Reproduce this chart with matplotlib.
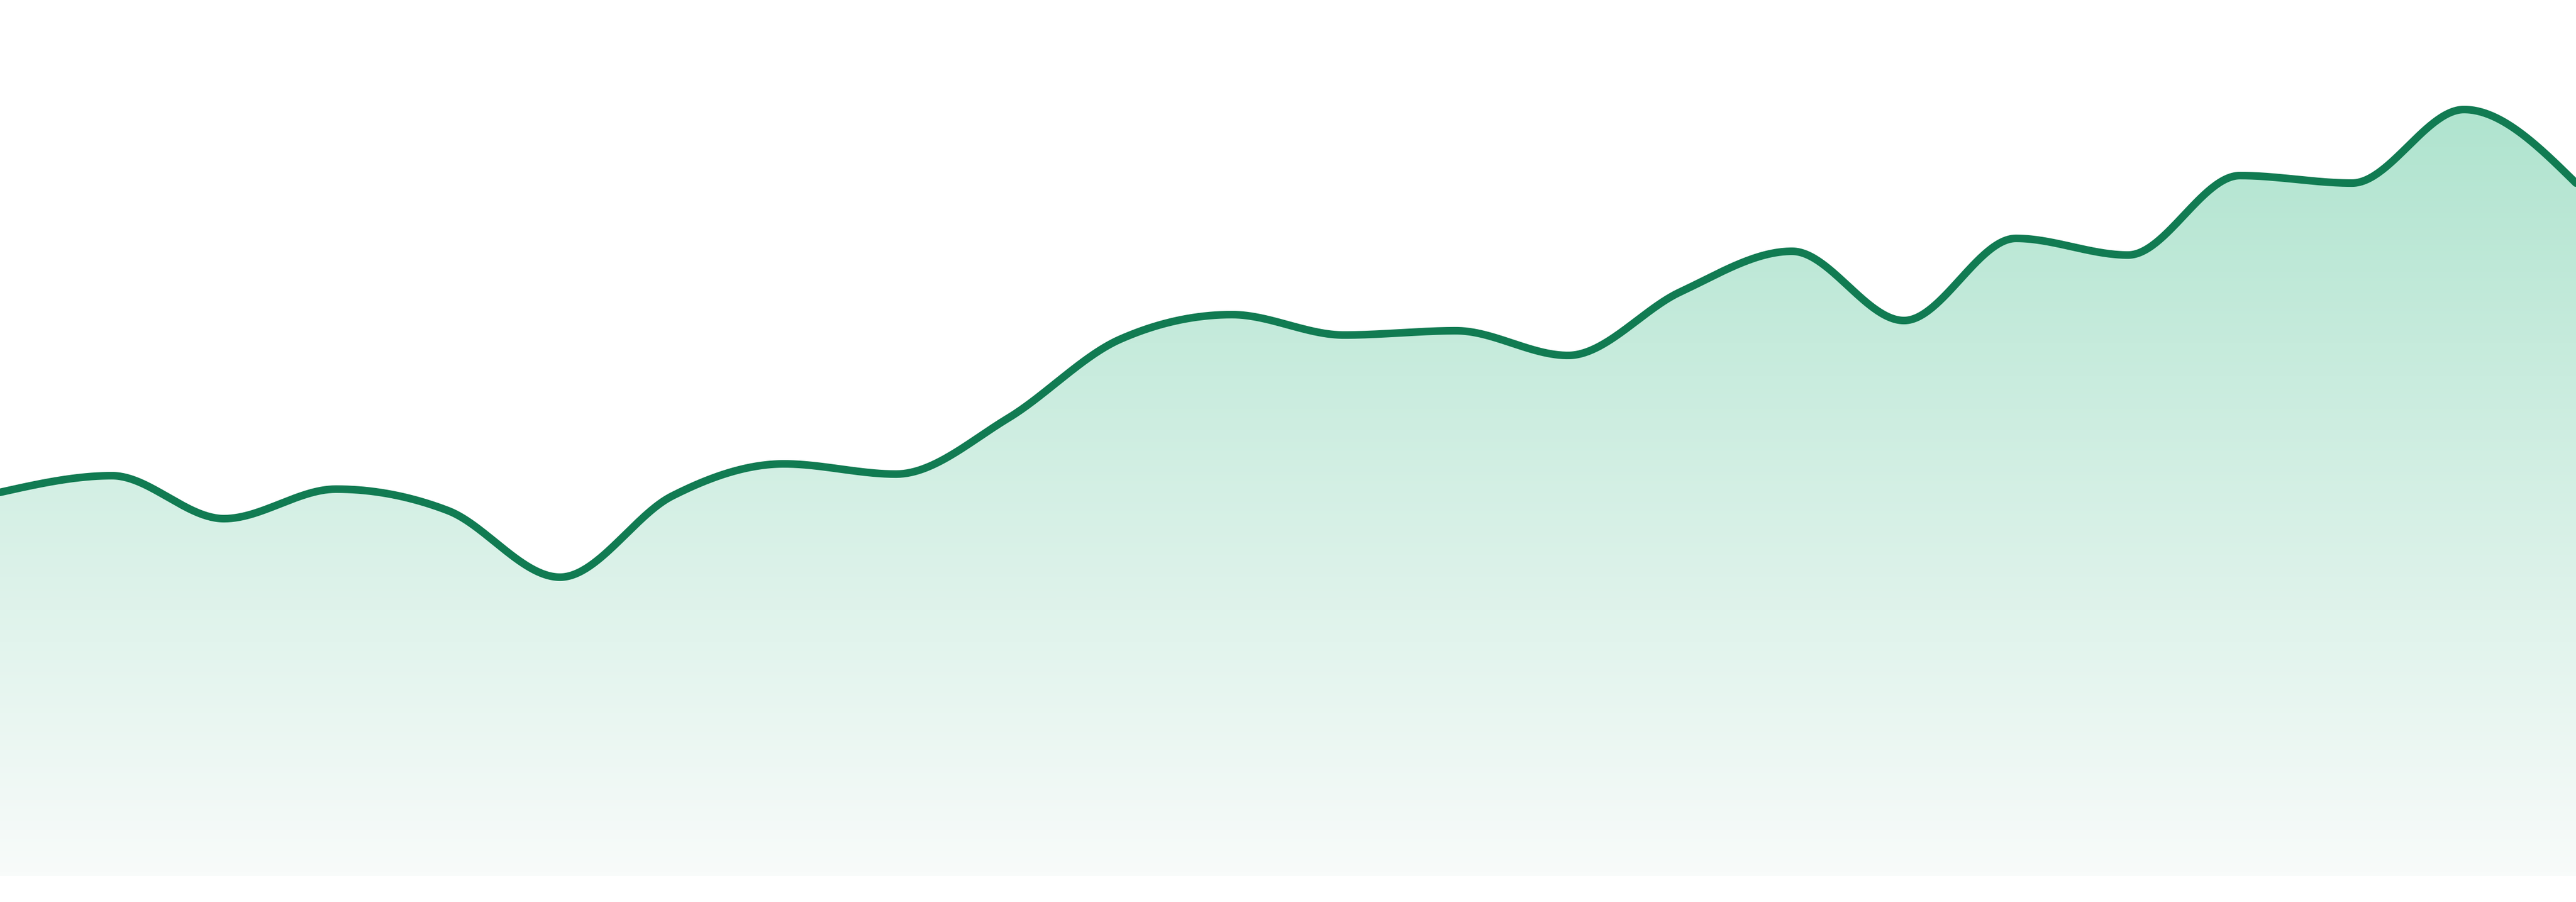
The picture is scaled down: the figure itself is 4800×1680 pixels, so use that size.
import numpy as np
import matplotlib
matplotlib.use("Agg")
from matplotlib import pyplot as plt
from matplotlib.patches import Polygon
from matplotlib.colors import LinearSegmentedColormap

# one value per step
steps = list(range(24))
values = [71.5, 74.6, 66.6, 72.1, 68.1, 55.7, 70.8, 76.8, 74.9, 85.3,
          100.0, 104.6, 100.8, 101.6, 97.0, 108.8, 116.4, 103.5, 118.8,
          115.7, 130.5, 129.1, 142.8, 129.1]

line_color = "#117b52"
fill_top = "#b0e4cf"
fill_bottom = "#f8fbfa"


def monotone_curve(x, y, per_seg=60):
    # monotone cubic, same idea as d3 curveMonotoneX
    x = np.asarray(x, float)
    y = np.asarray(y, float)
    h = np.diff(x)
    s = np.diff(y) / h
    m = np.zeros(len(x))
    for i in range(1, len(x) - 1):
        p = (s[i - 1] * h[i] + s[i] * h[i - 1]) / (h[i - 1] + h[i])
        m[i] = (np.sign(s[i - 1]) + np.sign(s[i])) * min(abs(s[i - 1]), abs(s[i]), 0.5 * abs(p))
    m[0] = (3 * s[0] - m[1]) / 2
    m[-1] = (3 * s[-1] - m[-2]) / 2
    xs, ys = [], []
    for i in range(len(x) - 1):
        t = np.linspace(0, 1, per_seg, endpoint=(i == len(x) - 2))
        h00 = 2 * t**3 - 3 * t**2 + 1
        h10 = t**3 - 2 * t**2 + t
        h01 = -2 * t**3 + 3 * t**2
        h11 = t**3 - t**2
        xs.append(x[i] + t * h[i])
        ys.append(h00 * y[i] + h10 * h[i] * m[i] + h01 * y[i + 1] + h11 * h[i] * m[i + 1])
    return np.concatenate(xs), np.concatenate(ys)


xs, ys = monotone_curve(steps, values)

fig = plt.figure(figsize=(16, 5.6), dpi=300)
ax = fig.add_axes([0, 0, 1, 1])
ax.set_xlim(0, 23)
ax.set_ylim(-4.8, 163.2)
ax.axis("off")

# gradient fill under the curve
verts = np.column_stack([np.r_[xs, xs[-1], xs[0]], np.r_[ys, 0, 0]])
poly = Polygon(verts, closed=True, facecolor="none", edgecolor="none")
ax.add_patch(poly)
cmap = LinearSegmentedColormap.from_list("g", [fill_bottom, fill_top])
grad = np.linspace(0, 1, 256).reshape(-1, 1)
im = ax.imshow(grad, extent=[0, 23, 0, max(values)], origin="lower",
               aspect="auto", cmap=cmap, interpolation="bilinear", zorder=1)
im.set_clip_path(poly)

ax.plot(xs, ys, color=line_color, lw=3.4, solid_capstyle="round", zorder=2)

fig.savefig("out.png", dpi=300, facecolor="white")
